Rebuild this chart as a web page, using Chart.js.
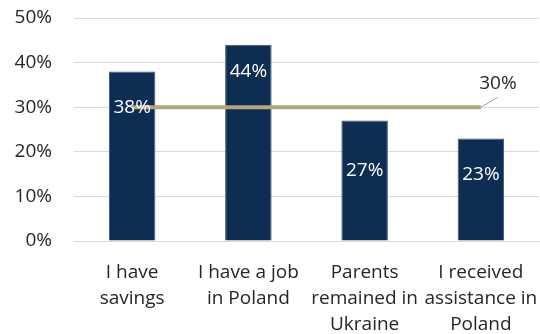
<!DOCTYPE html>
<html>
<head>
<meta charset="utf-8">
<script src="https://cdn.jsdelivr.net/npm/chart.js@4.4.1/dist/chart.umd.min.js"></script>
<style>
  html, body { margin: 0; padding: 0; background: #fff; }
  #wrap { width: 540px; height: 334px; position: relative; }
</style>
</head>
<body>
<div id="wrap"><canvas id="chart"></canvas></div>
<script>
// categories and values
const categories = [
  ['I have', 'savings'],
  ['I have a job', 'in Poland'],
  ['Parents', 'remained in', 'Ukraine'],
  ['I received', 'assistance in', 'Poland']
];
const shares = [38, 44, 27, 23];
const averageShare = [30, 30, 30, 30];
const yTicks = [0, 10, 20, 30, 40, 50];

const FONT = '"Open Sans", "Noto Sans", sans-serif';
const TEXT = '#262626';

// white value labels inside the bars, plus the callout for the average line
const valueLabels = {
  id: 'valueLabels',
  afterDatasetsDraw(chart, args, opts) {
    const ctx = chart.ctx;
    ctx.save();
    ctx.font = '19px ' + FONT;
    ctx.textAlign = 'center';
    ctx.textBaseline = 'middle';

    const bars = chart.getDatasetMeta(0).data;
    ctx.fillStyle = '#ffffff';
    bars.forEach((bar, i) => {
      ctx.fillText(shares[i] + '%', bar.x, bar.y + opts.insetFromTop[i]);
    });

    // callout for the last point of the average line
    const pts = chart.getDatasetMeta(1).data;
    const last = pts[pts.length - 1];
    ctx.strokeStyle = '#a6a6a6';
    ctx.lineWidth = 1;
    ctx.beginPath();
    ctx.moveTo(last.x, last.y);
    ctx.lineTo(last.x + 17, last.y - 10);
    ctx.stroke();
    ctx.fillStyle = TEXT;
    ctx.fillText(averageShare[averageShare.length - 1] + '%', last.x + 17, last.y - 24);
    ctx.restore();
  }
};

new Chart(document.getElementById('chart'), {
  data: {
    labels: categories,
    datasets: [
      {
        type: 'bar',
        data: shares,
        backgroundColor: '#0e2d52',
        borderColor: '#3a5678',
        borderWidth: 1,
        barPercentage: 0.4,
        categoryPercentage: 1,
        order: 2
      },
      {
        type: 'line',
        data: averageShare,
        borderColor: '#b3a67a',
        borderWidth: 4,
        pointRadius: 0,
        tension: 0,
        order: 1
      }
    ]
  },
  options: {
    responsive: true,
    maintainAspectRatio: false,
    animation: false,
    layout: { padding: { top: 18, right: 1, left: 0, bottom: 0 } },
    plugins: {
      legend: { display: false },
      tooltip: { enabled: false },
      valueLabels: { insetFromTop: [36, 27, 50, 36] }
    },
    scales: {
      x: {
        offset: true,
        grid: { display: false, drawTicks: false },
        border: { color: '#d9d9d9', width: 1 },
        ticks: {
          color: TEXT,
          padding: 18,
          maxRotation: 0,
          autoSkip: false,
          font: { family: FONT, size: 19, lineHeight: 1.39 }
        },
        afterFit(scale) {
          scale.height = 93;
          // let the outer labels run to the canvas edge
          scale.paddingLeft = 0;
          scale.paddingRight = 0;
        }
      },
      y: {
        min: 0,
        max: 50,
        afterBuildTicks(scale) {
          scale.ticks = yTicks.map(v => ({ value: v }));
        },
        grid: { color: '#d9d9d9', lineWidth: 1, drawTicks: false },
        border: { display: false },
        ticks: {
          color: TEXT,
          padding: 22,
          font: { family: FONT, size: 19 },
          callback: v => v + '%'
        },
        afterFit(scale) {
          scale.width = 74;
          scale.paddingTop = 11;
          scale.paddingBottom = 11;
        }
      }
    }
  },
  plugins: [valueLabels]
});
</script>
</body>
</html>
